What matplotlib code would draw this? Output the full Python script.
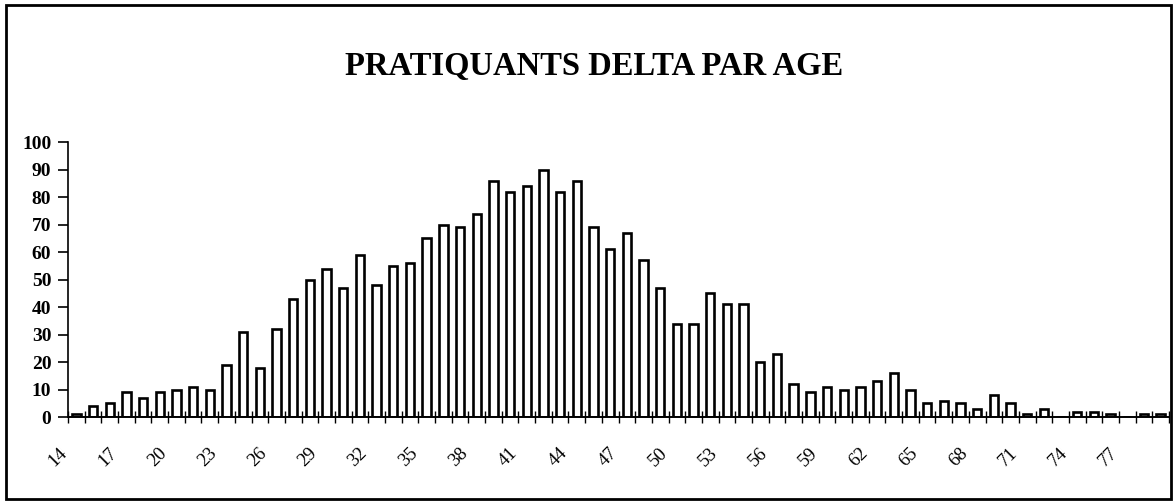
import matplotlib
matplotlib.use("Agg")
import matplotlib.pyplot as plt
from matplotlib.patches import Rectangle
import matplotlib.transforms as mtransforms
import numpy as np

ages = list(range(14, 80))
counts = [1, 4, 5, 9, 7, 9, 10, 11, 10, 19,      # 14-23
          31, 18, 32, 43, 50, 54, 47, 59, 48, 55,  # 24-33
          56, 65, 70, 69, 74, 86, 82, 84, 90, 82,  # 34-43
          86, 69, 61, 67, 57, 47, 34, 34, 45, 41,  # 44-53
          41, 20, 23, 12, 9, 11, 10, 11, 13, 16,   # 54-63
          10, 5, 6, 5, 3, 8, 5, 1, 3, 0,           # 64-73
          2, 2, 1, 0, 1, 1]                        # 74-79
title = "PRATIQUANTS DELTA PAR AGE"
yticks = list(range(0, 101, 10))
label_step = 3

W, H = 1176, 503
fig = plt.figure(figsize=(W / 100, H / 100), dpi=100)
serif = ["Liberation Serif", "DejaVu Serif"]

# outer frame
fig.patches.append(Rectangle((6 / W, 4 / H), (1171 - 6) / W, (498 - 4) / H,
                             transform=fig.transFigure, fill=False,
                             edgecolor="black", linewidth=2.0))

left, right = 68 / W, 1169 / W
bottom, top = (H - 417.0) / H, (H - 142.3) / H
ax = fig.add_axes([left, bottom, right - left, top - bottom])

x = np.arange(len(ages))
ax.bar(x, counts, width=0.5, facecolor="white", edgecolor="black", linewidth=1.9)

ax.set_xlim(-0.5, len(ages) - 0.5)
ax.set_ylim(0, 100)
for s in ["top", "right"]:
    ax.spines[s].set_visible(False)
ax.spines["left"].set_linewidth(1.2)
ax.spines["bottom"].set_linewidth(1.4)

ax.set_yticks(yticks)
ax.set_yticklabels([str(v) for v in yticks], fontfamily=serif,
                   fontweight="bold", fontsize=14)
ax.tick_params(axis="y", direction="out", length=7, width=1.2, pad=5)

# category boundary ticks (cross)
ax.set_xticks(np.arange(-0.5, len(ages), 1.0), minor=True)
ax.tick_params(axis="x", which="minor", direction="inout", length=9, width=1.0)
major = x[::label_step]
ax.set_xticks(major)
ax.set_xticklabels([str(ages[i]) for i in major], fontfamily=serif,
                   fontsize=13.5, rotation=45, ha="right", va="top",
                   rotation_mode="default")
ax.tick_params(axis="x", which="major", length=0, pad=20)
shift = mtransforms.ScaledTranslation(-6 / 100, 0, fig.dpi_scale_trans)
for lbl in ax.get_xticklabels():
    lbl.set_transform(lbl.get_transform() + shift)

fig.text(594 / W, (H - 66) / H, title, fontfamily=serif, fontweight="bold",
         fontsize=23.5, ha="center", va="center")

fig.savefig("out.png", dpi=100)
